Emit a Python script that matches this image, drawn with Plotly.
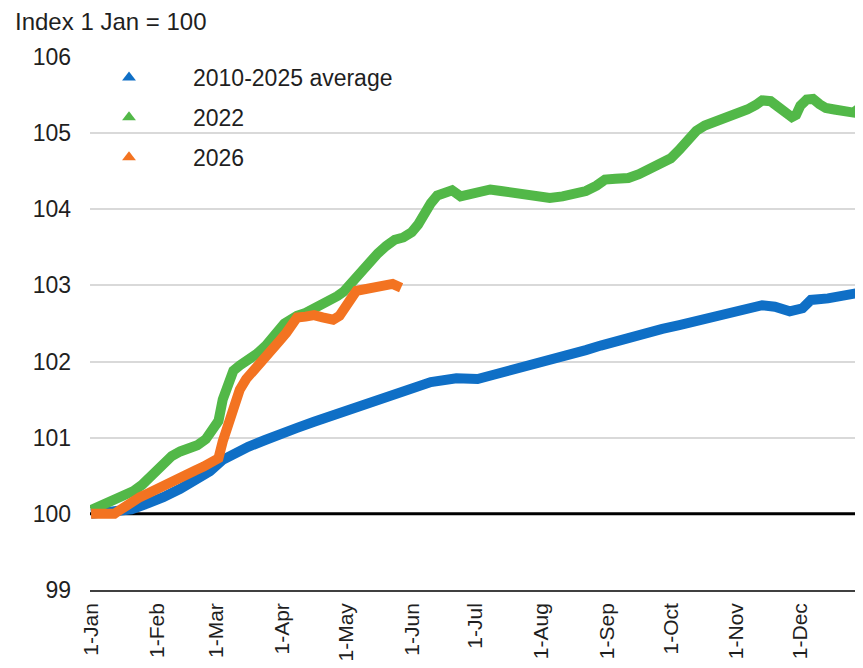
"""
Index of cumulative change since 1 January: 2010-2025 average, 2022 and 2026.
"""

import plotly.graph_objects as go

# Day of year (0 = 1 Jan) and index values
avg_days = [0, 10, 19, 27, 31, 34, 42, 50, 56, 62, 68, 74, 82, 89, 97, 105, 113,
            120, 128, 136, 144, 152, 160, 172, 182, 190, 199, 207, 214, 224, 233,
            240, 246, 254, 261, 269, 277, 287, 297, 306, 316, 322, 329, 335, 339,
            347, 355, 363]
avg_values = [100.0, 100.02, 100.06, 100.14, 100.17, 100.22, 100.33, 100.45, 100.56,
              100.71, 100.81, 100.88, 100.97, 101.06, 101.13, 101.21, 101.29, 101.36,
              101.44, 101.51, 101.58, 101.66, 101.73, 101.78, 101.77, 101.83, 101.89,
              101.95, 102.02, 102.09, 102.15, 102.21, 102.26, 102.32, 102.37, 102.43,
              102.48, 102.55, 102.61, 102.68, 102.74, 102.72, 102.66, 102.70, 102.81,
              102.83, 102.86, 102.91]

y2022_days = [0, 6, 11, 16, 20, 24, 28, 31, 34, 38, 42, 46, 50, 54, 57, 60, 62, 64,
              67, 70, 74, 78, 82, 85, 88, 91, 94, 97, 101, 105, 109, 113, 116, 119,
              122, 125, 128, 131, 135, 139, 143, 147, 151, 154, 157, 160, 163, 167,
              170, 174, 178, 183, 188, 193, 199, 205, 211, 216, 222, 228, 233, 238,
              242, 247, 253, 258, 264, 269, 273, 277, 281, 285, 289, 294, 300, 305,
              309, 313, 316, 320, 323, 327, 330, 332, 334, 337, 340, 343, 346, 350,
              355, 359, 363]
y2022_values = [100.05, 100.12, 100.17, 100.22, 100.30, 100.38, 100.48, 100.58, 100.67,
                100.76, 100.82, 100.85, 100.90, 100.98, 101.08, 101.22, 101.50, 101.70,
                101.88, 101.95, 102.02, 102.10, 102.20, 102.28, 102.40, 102.50, 102.56,
                102.60, 102.64, 102.69, 102.75, 102.81, 102.86, 102.92, 103.02, 103.11,
                103.22, 103.31, 103.42, 103.52, 103.60, 103.63, 103.70, 103.80, 103.95,
                104.08, 104.18, 104.23, 104.25, 104.17, 104.20, 104.24, 104.26, 104.24,
                104.22, 104.19, 104.15, 104.15, 104.17, 104.20, 104.24, 104.31, 104.39,
                104.40, 104.41, 104.46, 104.53, 104.60, 104.67, 104.78, 104.90, 105.03,
                105.10, 105.15, 105.20, 105.26, 105.31, 105.37, 105.43, 105.42, 105.36,
                105.27, 105.21, 105.24, 105.36, 105.44, 105.45, 105.38, 105.33, 105.31,
                105.29, 105.27, 105.35]

y2026_days = [0, 4, 8, 11, 13, 16, 19, 23, 27, 31, 36, 40, 45, 49, 53, 57, 60, 62,
              64, 66, 68, 70, 73, 77, 80, 83, 86, 89, 92, 94, 97, 101, 105, 109, 112,
              114, 117, 120, 123, 125, 128, 131, 135, 139, 142, 146]
y2026_values = [100.0, 100.0, 99.98, 100.0, 100.04, 100.10, 100.16, 100.22, 100.27,
                100.33, 100.38, 100.44, 100.51, 100.57, 100.62, 100.67, 100.73, 100.95,
                101.15, 101.32, 101.50, 101.63, 101.77, 101.89, 101.98, 102.06, 102.17,
                102.28, 102.38, 102.45, 102.58, 102.59, 102.61, 102.58, 102.56, 102.55,
                102.60, 102.70, 102.85, 102.93, 102.95, 102.97, 103.00, 103.02, 103.02,
                102.97]

month_days = [0, 31, 59, 90, 120, 151, 181, 212, 243, 273, 304, 334]
month_labels = ['1-Jan', '1-Feb', '1-Mar', '1-Apr', '1-May', '1-Jun',
                '1-Jul', '1-Aug', '1-Sep', '1-Oct', '1-Nov', '1-Dec']

series = [
    ('2010-2025 average', avg_days, avg_values, '#0F6FC6'),
    ('2022', y2022_days, y2022_values, '#52B848'),
    ('2026', y2026_days, y2026_values, '#F37321'),
]

BASE = 100
X_RANGE = [-0.5, 363.5]

FONT = 'Liberation Sans, Arial, sans-serif'
TEXT_COLOR = '#1f1f1f'

# The page body adds an 8px margin, so the figure is sized to fit inside it
PLOT_W = 773
PLOT_H = 533

fig = go.Figure()

# Baseline at 100: a trace so it sits above the grid but under the data
fig.add_trace(go.Scatter(
    x=X_RANGE,
    y=[BASE, BASE],
    mode='lines',
    line=dict(color='black', width=3),
    showlegend=False,
    hoverinfo='skip'
))

# Thick bands for the data
for name, days, values, color in series:
    fig.add_trace(go.Scatter(
        x=days,
        y=values,
        mode='lines',
        line=dict(color=color, width=10),
        showlegend=False,
        hoverinfo='skip'
    ))

# Legend entries drawn as triangles
for name, days, values, color in series:
    fig.add_trace(go.Scatter(
        x=[None],
        y=[None],
        mode='markers',
        name=name,
        legendgroup=name,
        marker=dict(symbol='triangle-up', size=12, color=color)
    ))

fig.add_annotation(
    text='Index 1 Jan = 100',
    xref='paper', yref='paper',
    x=-77 / PLOT_W, y=1 + 35 / PLOT_H,
    xanchor='left', yanchor='middle',
    showarrow=False,
    font=dict(family=FONT, size=24, color=TEXT_COLOR)
)

fig.update_layout(
    width=855,
    height=660,
    margin=dict(l=82, r=0, t=49, b=78),
    plot_bgcolor='white',
    paper_bgcolor='white',
    font=dict(family=FONT, size=22, color=TEXT_COLOR),
    legend=dict(
        x=-25 / PLOT_W, y=1 + 1 / PLOT_H,
        xanchor='left', yanchor='top',
        bgcolor='rgba(0,0,0,0)',
        font=dict(family=FONT, size=23, color=TEXT_COLOR),
        itemwidth=118,
        traceorder='grouped',
        tracegroupgap=7
    ),
    xaxis=dict(
        range=X_RANGE,
        tickvals=month_days,
        ticktext=month_labels,
        tickangle=-90,
        showgrid=False,
        zeroline=False,
        showline=True,
        linecolor='#404040',
        linewidth=1.5,
        ticks='',
        ticklabelstandoff=3,
        automargin=False,
        tickfont=dict(family=FONT, size=21, color=TEXT_COLOR)
    ),
    yaxis=dict(
        range=[99, 106],
        dtick=1,
        showgrid=True,
        gridcolor='#d9d9d9',
        gridwidth=1.5,
        zeroline=False,
        showline=False,
        ticks='',
        ticklabelstandoff=18,
        automargin=False,
        tickfont=dict(family=FONT, size=23, color=TEXT_COLOR)
    )
)

fig.write_html("out.html")
